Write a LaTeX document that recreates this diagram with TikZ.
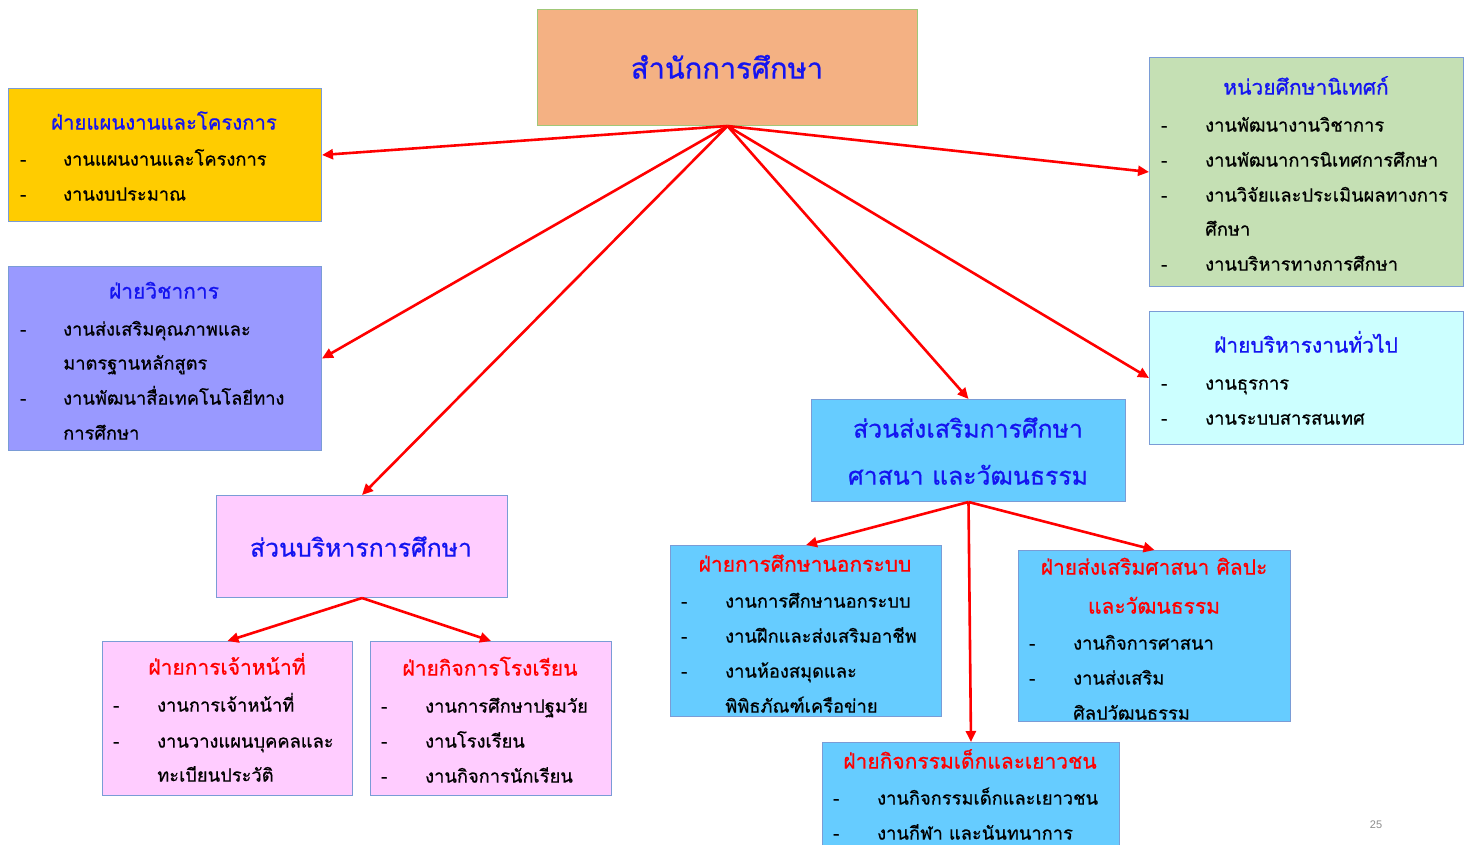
\documentclass[tikz,border=0pt]{standalone}
\usepackage{fontspec}
\newfontfamily\thai[Script=Thai, RawFeature={embolden=0.7}]{Loma}
\setmainfont{Liberation Sans}
\usetikzlibrary{arrows.meta}
\definecolor{cSalmon}{HTML}{F4B183}
\definecolor{cYellow}{HTML}{FFCC00}
\definecolor{cViolet}{HTML}{9999FF}
\definecolor{cGreen}{HTML}{C5E0B4}
\definecolor{cCyan}{HTML}{CCFFFF}
\definecolor{cSky}{HTML}{66CCFF}
\definecolor{cPink}{HTML}{FFCCFF}
\definecolor{cBorder}{HTML}{7A9CD6}
\definecolor{cTopBorder}{HTML}{A0C878}
\definecolor{cHeadBlue}{HTML}{1414F0}
\definecolor{cHeadRed}{HTML}{FF0000}
\definecolor{cArrow}{HTML}{FF0000}
\tikzset{
  box/.style={draw=cBorder, line width=1pt, rectangle, anchor=north west, inner sep=0pt},
  item/.style={anchor=mid west, inner sep=0pt, yshift=-3pt, font=\thai\fontsize{18.3}{22}\selectfont, text=black},
  dashtxt/.style={anchor=mid west, inner sep=0pt, yshift=-3pt, font=\thai\fontsize{18.3}{22}\selectfont, text=black},
  headb/.style={anchor=mid, inner sep=0pt, yshift=-3pt, font=\thai\fontsize{21}{25}\selectfont, text=cHeadBlue},
  headr/.style={anchor=mid, inner sep=0pt, yshift=-3pt, font=\thai\fontsize{21}{25}\selectfont, text=cHeadRed},
  bigb/.style={anchor=mid, inner sep=0pt, yshift=-3pt, font=\thai\fontsize{24.8}{29}\selectfont, text=cHeadBlue},
  conn/.style={draw=cArrow, line width=2.6pt, -{Triangle[length=11pt,width=10pt]}},
}
\begin{document}
\begin{tikzpicture}[x=1pt,y=-1pt]
\useasboundingbox (0,0) rectangle (1472,845);
% top box
\node[box, draw=cTopBorder, fill=cSalmon, minimum width=380pt, minimum height=116pt] (top) at (537,9) {};
\node[anchor=mid, inner sep=0pt, yshift=-4pt, font=\thai\fontsize{29}{33}\selectfont, text=cHeadBlue] (topt) at (727,72) {สำนักการศึกษา};
% box 2 plan
\node[box, fill=cYellow, minimum width=313pt, minimum height=133pt] (b2) at (8,88) {};
\node[headb, font=\thai\fontsize{20.3}{24}\selectfont] (b2h) at (164,124) {ฝ่ายแผนงานและโครงการ};
\node[dashtxt] (b2d1) at (20,160) {-};
\node[item] (b2i1) at (63,160) {งานแผนงานและโครงการ};
\node[dashtxt] (b2d2) at (20,195) {-};
\node[item] (b2i2) at (63,195) {งานงบประมาณ};
% box 3 academic
\node[box, fill=cViolet, minimum width=313pt, minimum height=184pt] (b3) at (8,266) {};
\node[headb] (b3h) at (164,293) {ฝ่ายวิชาการ};
\node[dashtxt] (b3d1) at (20,330) {-};
\node[item] (b3i1) at (63,330) {งานส่งเสริมคุณภาพและ};
\node[item] (b3i1b) at (63,364) {มาตรฐานหลักสูตร};
\node[dashtxt] (b3d2) at (20,399) {-};
\node[item] (b3i2) at (63,399) {งานพัฒนาสื่อเทคโนโลยีทาง};
\node[item] (b3i2b) at (63,434) {การศึกษา};
% box 4 supervision
\node[box, fill=cGreen, minimum width=314pt, minimum height=229pt] (b4) at (1149,57) {};
\node[headb] (b4h) at (1306,89) {หน่วยศึกษานิเทศก์};
\node[dashtxt] (b4d1) at (1161,126) {-};
\node[item] (b4i1) at (1205,126) {งานพัฒนางานวิชาการ};
\node[dashtxt] (b4d2) at (1161,161) {-};
\node[item] (b4i2) at (1205,161) {งานพัฒนาการนิเทศการศึกษา};
\node[dashtxt] (b4d3) at (1161,196) {-};
\node[item] (b4i3) at (1205,196) {งานวิจัยและประเมินผลทางการ};
\node[item] (b4i3b) at (1205,230) {ศึกษา};
\node[dashtxt] (b4d4) at (1161,265) {-};
\node[item] (b4i4) at (1205,265) {งานบริหารทางการศึกษา};
% box 5 general admin
\node[box, fill=cCyan, minimum width=314pt, minimum height=133pt] (b5) at (1149,311) {};
\node[headb] (b5h) at (1306,347) {ฝ่ายบริหารงานทั่วไป};
\node[dashtxt] (b5d1) at (1161,384) {-};
\node[item] (b5i1) at (1205,384) {งานธุรการ};
\node[dashtxt] (b5d2) at (1161,419) {-};
\node[item] (b5i2) at (1205,419) {งานระบบสารสนเทศ};
% box 6 promotion section
\node[box, fill=cSky, minimum width=314pt, minimum height=102pt] (b6) at (811,399) {};
\node[bigb] (b6t1) at (968,432) {ส่วนส่งเสริมการศึกษา};
\node[bigb] (b6t2) at (968,479) {ศาสนา และวัฒนธรรม};
% box 7 admin section
\node[box, fill=cPink, minimum width=291pt, minimum height=102pt] (b7) at (216,495) {};
\node[bigb] (b7t) at (361,551) {ส่วนบริหารการศึกษา};
% box 8 personnel
\node[box, fill=cPink, minimum width=250pt, minimum height=154pt] (b8) at (102,641) {};
\node[headr] (b8h) at (227,669) {ฝ่ายการเจ้าหน้าที่};
\node[dashtxt] (b8d1) at (113,706) {-};
\node[item] (b8i1) at (157,706) {งานการเจ้าหน้าที่};
\node[dashtxt] (b8d2) at (113,742) {-};
\node[item] (b8i2) at (157,742) {งานวางแผนบุคคลและ};
\node[item] (b8i2b) at (157,776) {ทะเบียนประวัติ};
% box 9 school affairs
\node[box, fill=cPink, minimum width=241pt, minimum height=154pt] (b9) at (370,641) {};
\node[headr] (b9h) at (490,670) {ฝ่ายกิจการโรงเรียน};
\node[dashtxt] (b9d1) at (381,707) {-};
\node[item] (b9i1) at (425,707) {งานการศึกษาปฐมวัย};
\node[dashtxt] (b9d2) at (381,742) {-};
\node[item] (b9i2) at (425,742) {งานโรงเรียน};
\node[dashtxt] (b9d3) at (381,777) {-};
\node[item] (b9i3) at (425,777) {งานกิจการนักเรียน};
% box 10 non-formal
\node[box, fill=cSky, minimum width=271pt, minimum height=171pt] (b10) at (670,545) {};
\node[headr] (b10h) at (805,566) {ฝ่ายการศึกษานอกระบบ};
\node[dashtxt] (b10d1) at (681,602) {-};
\node[item] (b10i1) at (725,602) {งานการศึกษานอกระบบ};
\node[dashtxt] (b10d2) at (681,637) {-};
\node[item] (b10i2) at (725,637) {งานฝึกและส่งเสริมอาชีพ};
\node[dashtxt] (b10d3) at (681,672) {-};
\node[item] (b10i3) at (725,672) {งานห้องสมุดและ};
\node[item] (b10i3b) at (725,707) {พิพิธภัณฑ์เครือข่าย};
% box 11 religion arts culture
\node[box, fill=cSky, minimum width=272pt, minimum height=171pt] (b11) at (1018,550) {};
\node[headr] (b11h1) at (1154,569) {ฝ่ายส่งเสริมศาสนา ศิลปะ};
\node[headr] (b11h2) at (1154,608) {และวัฒนธรรม};
\node[dashtxt] (b11d1) at (1029,644) {-};
\node[item] (b11i1) at (1073,644) {งานกิจการศาสนา};
\node[dashtxt] (b11d2) at (1029,679) {-};
\node[item] (b11i2) at (1073,679) {งานส่งเสริม};
\node[item] (b11i2b) at (1073,714) {ศิลปวัฒนธรรม};
% box 12 youth
\node[box, fill=cSky, minimum width=297pt, minimum height=103pt] (b12) at (822,742) {};
\node[headr] (b12h) at (970,763) {ฝ่ายกิจกรรมเด็กและเยาวชน};
\node[dashtxt] (b12d1) at (833,799) {-};
\node[item] (b12i1) at (877,799) {งานกิจกรรมเด็กและเยาวชน};
\node[dashtxt] (b12d2) at (833,834) {-};
\node[item] (b12i2) at (877,834) {งานกีฬา และนันทนาการ};
% page number
\node[anchor=mid, inner sep=0pt, font=\fontsize{11}{13}\selectfont, text=black!45] (pg) at (1376,826) {25};
% connectors
\draw[conn] (top.south) -- (b2.east);
\draw[conn] (top.south) -- (b3.east);
\draw[conn] (top.south) -- (b7.north);
\draw[conn] (top.south) -- (b6.north);
\draw[conn] (top.south) -- (b5.west);
\draw[conn] (top.south) -- (b4.west);
\draw[conn] (b6.south) -- (b10.north);
\draw[conn] (b6.south) -- (b11.north);
\draw[conn] (b6.south) -- (b12.north);
\draw[conn] (b7.south) -- (b8.north);
\draw[conn] (b7.south) -- (b9.north);
\end{tikzpicture}
\end{document}
